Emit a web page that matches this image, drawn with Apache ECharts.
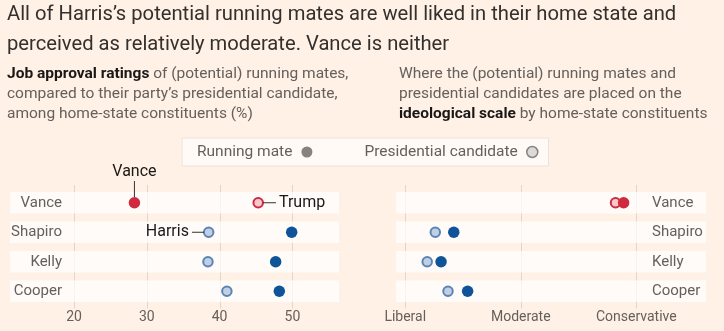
<!DOCTYPE html>
<html>
<head>
<meta charset="utf-8">
<script src="https://cdn.jsdelivr.net/npm/echarts@6/dist/echarts.min.js"></script>
<style>
  html, body { margin: 0; padding: 0; background: #fff1e5; }
  #chart { width: 724px; height: 331px; }
</style>
</head>
<body>
<div id="chart"></div>
<script>
// Rows, top to bottom
const rows = ['Vance', 'Shapiro', 'Kelly', 'Cooper'];
const party = ['R', 'D', 'D', 'D'];
const candidateNames = ['Trump', 'Harris', 'Harris', 'Harris'];

// Job approval among home-state constituents (%)
const approvalMate = [28.3, 49.9, 47.7, 48.2];
const approvalCandidate = [45.3, 38.5, 38.4, 41.0];
const approvalTicks = [20, 30, 40, 50];

// Perceived ideology (0 = liberal, 1 = moderate, 2 = conservative)
const ideologyMate = [1.89, 0.42, 0.31, 0.54];
const ideologyCandidate = [1.82, 0.26, 0.19, 0.37];
const ideologyTicks = [0, 1, 2];
const ideologyTickLabels = ['Liberal', 'Moderate', 'Conservative'];

const FONT = 'Roboto, "Liberation Sans", sans-serif';
const INK = '#33302e';
const GREY = '#66605c';
const BAND = 'rgba(255,255,255,0.72)';
const GRIDLINE = '#e2d5ca';

const mateColour = { R: '#cf2a3d', D: '#0f5499' };
const candFill = { R: '#f7c9cd', D: '#bfd0e4' };
const candBorder = { R: '#cf2a3d', D: '#5b84b5' };

const chart = echarts.init(document.getElementById('chart'), null, { renderer: 'canvas' });

function bandSeries(idx) {
  return {
    type: 'custom', xAxisIndex: idx, yAxisIndex: idx, silent: true, z: 2,
    data: rows.map(r => [0, r]),
    encode: { x: 0, y: 1 },
    renderItem(params, api) {
      const cs = params.coordSys;
      const c = api.coord([api.value(0), api.value(1)]);
      const h = api.size([0, 1])[1] * 0.73;
      return { type: 'rect', shape: { x: cs.x, y: c[1] - h / 2, width: cs.width, height: h }, style: { fill: BAND } };
    }
  };
}

function gridlineSeries(idx, ticks) {
  return {
    type: 'custom', xAxisIndex: idx, yAxisIndex: idx, silent: true, z: 1,
    data: ticks.map(v => [v, rows[0]]),
    encode: { x: 0, y: 1 },
    renderItem(params, api) {
      const cs = params.coordSys;
      const x = Math.round(api.coord([api.value(0), 0])[0]) + 0.5;
      return { type: 'line', shape: { x1: x, y1: cs.y - 3, x2: x, y2: cs.y + cs.height + 2.5 }, style: { stroke: GRIDLINE, lineWidth: 1 } };
    }
  };
}

const leader = { width: 13, height: 1, backgroundColor: INK, fontSize: 1, verticalAlign: 'middle' };
const annoText = { fontSize: 16, color: '#1a1817', fontFamily: FONT, verticalAlign: 'middle' };

function candidateData(values, annotate) {
  return rows.map((r, i) => {
    const p = party[i];
    const item = {
      value: [values[i], r],
      itemStyle: { color: candFill[p], borderColor: candBorder[p], borderWidth: 2, opacity: 1 }
    };
    if (annotate && i === 0) {
      item.label = {
        show: true, position: 'right', distance: -1,
        formatter: '{l| }{t|' + candidateNames[i] + '}',
        rich: { l: leader, t: Object.assign({}, annoText, { padding: [0, 0, 0, 3] }) }
      };
    }
    if (annotate && i === 1) {
      item.label = {
        show: true, position: 'left', distance: -1,
        formatter: '{t|' + candidateNames[i] + '}{l| }',
        rich: { l: Object.assign({}, leader, { width: 12 }), t: Object.assign({}, annoText, { padding: [0, 3, 0, 0] }) }
      };
    }
    return item;
  });
}

function mateData(values, annotate) {
  return rows.map((r, i) => {
    const item = { value: [values[i], r], itemStyle: { color: mateColour[party[i]], opacity: 1 } };
    if (annotate && i === 0) {
      item.label = {
        show: true, position: 'top', distance: 0,
        formatter: '{t|' + r + '}\n{v| }',
        rich: {
          t: Object.assign({}, annoText, { lineHeight: 18, align: 'center' }),
          v: { width: 1, height: 16, backgroundColor: INK, fontSize: 1, align: 'center' }
        }
      };
    }
    return item;
  });
}

const yAxisBase = {
  type: 'category', data: rows, inverse: true, z: 10,
  axisLine: { show: false }, axisTick: { show: false }, splitLine: { show: false }
};

const subStyle = {
  fontFamily: FONT, fontSize: 15.5, fontWeight: 'normal', color: GREY, lineHeight: 20,
  rich: { b: { fontFamily: FONT, fontSize: 15.5, fontWeight: 'bold', color: '#1a1817', lineHeight: 20 } }
};

const option = {
  backgroundColor: '#fff1e5',
  animation: false,
  textStyle: { fontFamily: FONT },
  title: [
    {
      text: 'All of Harris’s potential running mates are well liked in their home state and\nperceived as relatively moderate. Vance is neither',
      left: 7, top: 0, padding: 0,
      textStyle: { fontFamily: FONT, fontSize: 20.2, fontWeight: 'normal', color: INK, lineHeight: 30 }
    },
    {
      text: '{b|Job approval ratings} of (potential) running mates,\ncompared to their party’s presidential candidate,\namong home-state constituents (%)',
      left: 7, top: 64, padding: 0, textStyle: subStyle
    },
    {
      text: 'Where the (potential) running mates and\npresidential candidates are placed on the\n{b|ideological scale} by home-state constituents',
      left: 399, top: 64, padding: 0, textStyle: subStyle
    }
  ],
  legend: {
    left: 182, top: 138, align: 'right', itemGap: 52, itemWidth: 11, itemHeight: 11,
    padding: [6, 10, 6, 15],
    backgroundColor: '#fffaf6', borderColor: '#eee2d8', borderWidth: 1,
    textStyle: { color: GREY, fontSize: 15.5, fontFamily: FONT, padding: [0, 4, 0, 0], lineHeight: 16 },
    selectedMode: false,
    data: [
      { name: 'Running mate', icon: 'circle', itemStyle: { color: '#878280', borderWidth: 0, opacity: 1 } },
      { name: 'Presidential candidate', icon: 'circle', itemStyle: { color: '#dcdad8', borderColor: '#878280', borderWidth: 1.5, opacity: 1 } }
    ]
  },
  grid: [
    { left: 10, top: 188, width: 329, height: 118 },
    { left: 396, top: 188, width: 310, height: 118 }
  ],
  xAxis: [
    {
      type: 'value', gridIndex: 0, min: 11.21, max: 56.4,
      axisLine: { show: false }, axisTick: { show: false }, splitLine: { show: false },
      axisLabel: { customValues: approvalTicks, color: GREY, fontSize: 14, margin: 4, fontFamily: FONT }
    },
    {
      type: 'value', gridIndex: 1, min: -0.08, max: 2.603,
      axisLine: { show: false }, axisTick: { show: false }, splitLine: { show: false },
      axisLabel: {
        customValues: ideologyTicks, color: GREY, fontSize: 14, margin: 4, fontFamily: FONT,
        formatter: v => ideologyTickLabels[ideologyTicks.indexOf(v)] || ''
      }
    }
  ],
  yAxis: [
    Object.assign({}, yAxisBase, {
      gridIndex: 0, position: 'left',
      axisLabel: { inside: true, align: 'right', margin: 52, color: GREY, fontSize: 15, fontFamily: FONT }
    }),
    Object.assign({}, yAxisBase, {
      gridIndex: 1, position: 'right',
      axisLabel: { inside: true, align: 'left', margin: 54, color: GREY, fontSize: 15, fontFamily: FONT }
    })
  ],
  series: [
    gridlineSeries(0, approvalTicks),
    bandSeries(0),
    gridlineSeries(1, ideologyTicks),
    bandSeries(1),
    {
      name: 'Presidential candidate', type: 'scatter', xAxisIndex: 0, yAxisIndex: 0, z: 3,
      symbolSize: 9.5, data: candidateData(approvalCandidate, true)
    },
    {
      name: 'Running mate', type: 'scatter', xAxisIndex: 0, yAxisIndex: 0, z: 4,
      symbolSize: 11.5, data: mateData(approvalMate, true)
    },
    {
      name: 'Presidential candidate', type: 'scatter', xAxisIndex: 1, yAxisIndex: 1, z: 3,
      symbolSize: 9.5, data: candidateData(ideologyCandidate, false)
    },
    {
      name: 'Running mate', type: 'scatter', xAxisIndex: 1, yAxisIndex: 1, z: 4,
      symbolSize: 11.5, data: mateData(ideologyMate, false)
    }
  ]
};

chart.setOption(option);
</script>
</body>
</html>
